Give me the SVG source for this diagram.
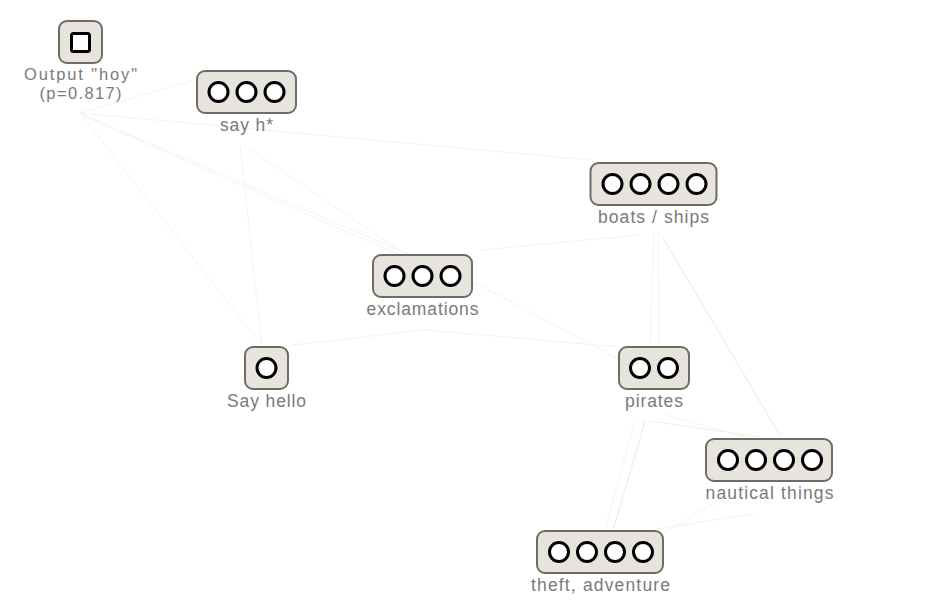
<svg xmlns="http://www.w3.org/2000/svg" width="928" height="610" viewBox="0 0 928 610">
<style>
.box{fill:#e6e4dc;stroke:#6f6c62;stroke-width:2}
.c{fill:#fff;stroke:#000;stroke-width:3}
.lbl{font-family:"Liberation Sans",Arial,sans-serif;font-size:17.5px;fill:#7a7a7a;text-anchor:middle}
.sm{font-size:16.5px}
.e{stroke:#f3f3f1;stroke-width:1;fill:none}
.g{stroke:#e8f2e2;stroke-width:1.2;fill:none}
</style>
<rect width="928" height="610" fill="#fff"/>
<g id="connectors">
<line class="e" x1="80" y1="113" x2="195" y2="80"/>
<line class="e" x1="80" y1="113" x2="590" y2="160"/>
<line class="e" x1="80" y1="113" x2="408" y2="254"/>
<line class="e" x1="84" y1="116" x2="400" y2="255"/>
<line class="e" x1="80" y1="113" x2="262" y2="346"/>
<line class="e" x1="243" y1="145" x2="405" y2="254"/>
<line class="e" x1="240" y1="145" x2="262" y2="346"/>
<line class="e" x1="480" y1="250" x2="640" y2="235"/>
<line class="e" x1="425" y1="330" x2="620" y2="347"/>
<line class="e" x1="470" y1="280" x2="620" y2="360"/>
<line class="e" x1="425" y1="330" x2="283" y2="346"/>
<line class="e" x1="654" y1="232" x2="650" y2="346"/>
<line class="e" x1="658" y1="232" x2="659" y2="346"/>
<line class="g" x1="663" y1="238" x2="781" y2="437"/>
<line class="g" x1="650" y1="421" x2="760" y2="437"/>
<line class="e" x1="665" y1="415" x2="745" y2="437"/>
<line class="g" x1="645" y1="422" x2="613" y2="530"/>
<line class="e" x1="635" y1="420" x2="605" y2="530"/>
<line class="e" x1="753" y1="514" x2="650" y2="530"/>
<line class="e" x1="720" y1="500" x2="660" y2="535"/>
</g>
<g id="output">
<rect class="box" x="59" y="21" width="43" height="42" rx="8"/>
<rect class="c" x="71.5" y="33.5" width="18" height="18" rx="2"/>
<text class="lbl sm" x="80.5" y="80" textLength="113" lengthAdjust="spacing">Output "hoy"</text>
<text class="lbl sm" x="80.5" y="99" textLength="82" lengthAdjust="spacing">(p=0.817)</text>
</g>
<g id="say-h">
<rect class="box" x="197" y="71" width="99" height="42" rx="8"/>
<circle class="c" cx="218.5" cy="92" r="9.5"/>
<circle class="c" cx="246.5" cy="92" r="9.5"/>
<circle class="c" cx="274.5" cy="92" r="9.5"/>
<text class="lbl" x="246.5" y="130.5" textLength="53" lengthAdjust="spacing">say h*</text>
</g>
<g id="boats-ships">
<rect class="box" x="590.5" y="163" width="126" height="42" rx="8"/>
<circle class="c" cx="612.5" cy="184" r="9.5"/>
<circle class="c" cx="640.5" cy="184" r="9.5"/>
<circle class="c" cx="668.5" cy="184" r="9.5"/>
<circle class="c" cx="696.5" cy="184" r="9.5"/>
<text class="lbl" x="653.5" y="222.5" textLength="111" lengthAdjust="spacing">boats / ships</text>
</g>
<g id="exclamations">
<rect class="box" x="373" y="255" width="99" height="42" rx="8"/>
<circle class="c" cx="394.5" cy="276" r="9.5"/>
<circle class="c" cx="422.5" cy="276" r="9.5"/>
<circle class="c" cx="450.5" cy="276" r="9.5"/>
<text class="lbl" x="422.5" y="314.5" textLength="112" lengthAdjust="spacing">exclamations</text>
</g>
<g id="say-hello">
<rect class="box" x="245" y="347" width="43" height="42" rx="8"/>
<circle class="c" cx="266.5" cy="368" r="9.5"/>
<text class="lbl" x="266.5" y="406.5" textLength="79" lengthAdjust="spacing">Say hello</text>
</g>
<g id="pirates">
<rect class="box" x="619" y="347" width="70" height="42" rx="8"/>
<circle class="c" cx="640" cy="368" r="9.5"/>
<circle class="c" cx="668" cy="368" r="9.5"/>
<text class="lbl" x="654" y="406.5" textLength="58" lengthAdjust="spacing">pirates</text>
</g>
<g id="nautical-things">
<rect class="box" x="706" y="439" width="126" height="42" rx="8"/>
<circle class="c" cx="728" cy="460" r="9.5"/>
<circle class="c" cx="756" cy="460" r="9.5"/>
<circle class="c" cx="784" cy="460" r="9.5"/>
<circle class="c" cx="812" cy="460" r="9.5"/>
<text class="lbl" x="769.5" y="498.5" textLength="128" lengthAdjust="spacing">nautical things</text>
</g>
<g id="theft-adventure">
<rect class="box" x="537" y="531" width="126" height="42" rx="8"/>
<circle class="c" cx="559" cy="552" r="9.5"/>
<circle class="c" cx="587" cy="552" r="9.5"/>
<circle class="c" cx="615" cy="552" r="9.5"/>
<circle class="c" cx="643" cy="552" r="9.5"/>
<text class="lbl" x="600.5" y="590.5" textLength="139" lengthAdjust="spacing">theft, adventure</text>
</g>
</svg>
